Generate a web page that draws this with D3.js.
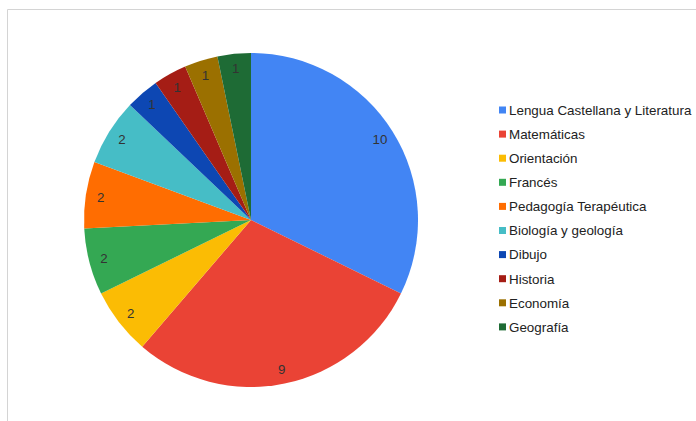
<!DOCTYPE html>
<html>
<head>
<meta charset="utf-8">
<script src="https://cdn.jsdelivr.net/npm/d3@7"></script>
<style>
  html, body { margin: 0; padding: 0; background: #fff; }
  svg { display: block; }
</style>
</head>
<body>
<svg id="chart" width="696" height="421"></svg>
<script>
// Subjects and their counts
const categories = [
  "Lengua Castellana y Literatura",
  "Matemáticas",
  "Orientación",
  "Francés",
  "Pedagogía Terapéutica",
  "Biología y geología",
  "Dibujo",
  "Historia",
  "Economía",
  "Geografía"
];
const values = [10, 9, 2, 2, 2, 2, 1, 1, 1, 1];
const colors = [
  "#4285f4", "#ea4335", "#fbbc04", "#34a853", "#ff6d01",
  "#46bdc6", "#0d47b3", "#a51d15", "#9b7000", "#1e6b35"
];

const svg = d3.select("#chart");
const W = 696, H = 421;

// panel frame
svg.append("path")
  .attr("d", `M7.5,${H} V9.5 H${W}`)
  .attr("fill", "none")
  .attr("stroke", "#d4d4d4")
  .attr("stroke-width", 1);

const cx = 251, cy = 220, R = 167;

const data = categories.map((c, i) => ({ name: c, value: values[i], color: colors[i] }));

const pie = d3.pie().sort(null).value(d => d.value);
const arcs = pie(data);
const arc = d3.arc().innerRadius(0).outerRadius(R);
const labelArc = d3.arc().innerRadius(R * 0.91).outerRadius(R * 0.91);

const g = svg.append("g").attr("transform", `translate(${cx},${cy})`);

g.selectAll("path.slice")
  .data(arcs)
  .join("path")
  .attr("class", "slice")
  .attr("d", arc)
  .attr("fill", d => d.data.color);

g.selectAll("text.val")
  .data(arcs)
  .join("text")
  .attr("class", "val")
  .attr("transform", d => `translate(${labelArc.centroid(d)})`)
  .attr("text-anchor", "middle")
  .attr("dy", "0.35em")
  .attr("font-family", "Liberation Sans, Arial, sans-serif")
  .attr("font-size", 13.3)
  .attr("fill", "#333")
  .text(d => d.data.value);

// legend
const legend = svg.append("g").attr("transform", "translate(499,110)");
const rowH = 24.1;
const rows = legend.selectAll("g.row")
  .data(data)
  .join("g")
  .attr("class", "row")
  .attr("transform", (d, i) => `translate(0,${i * rowH})`);

rows.append("rect")
  .attr("x", 0).attr("y", -3.5)
  .attr("width", 7).attr("height", 7)
  .attr("fill", d => d.color);

rows.append("text")
  .attr("x", 10)
  .attr("dy", "0.36em")
  .attr("font-family", "Liberation Sans, Arial, sans-serif")
  .attr("font-size", 13.4)
  .attr("fill", "#222")
  .text(d => d.name);
</script>
</body>
</html>
